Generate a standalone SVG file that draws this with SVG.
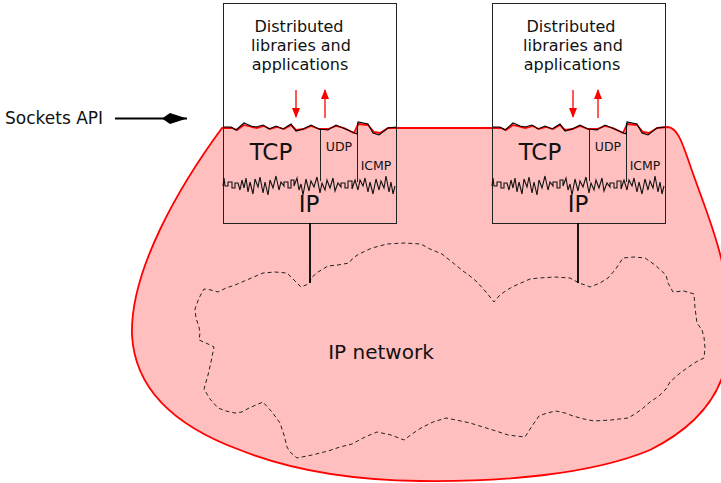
<svg xmlns="http://www.w3.org/2000/svg" width="721" height="483" viewBox="0 0 721 483">
<defs>
<style>
.box{fill:#fff;stroke:none}
.outline{fill:none;stroke:#222;stroke-width:1}
.jag{fill:none;stroke:#000;stroke-width:1.1;stroke-linejoin:miter}
.zz{fill:none;stroke:#111;stroke-width:1.1}
.t{font-family:"DejaVu Sans",sans-serif;fill:#111;text-anchor:middle}
.lib{font-size:16px}
.big{font-size:23px}
.small{font-size:12.5px}
.redarrow{stroke:#f00;stroke-width:1.3;fill:none;marker-end:url(#rh)}
</style>
<marker id="rh" viewBox="0 0 10 8" refX="9" refY="4" markerWidth="10" markerHeight="8" orient="auto" markerUnits="userSpaceOnUse"><path d="M0,0 L10,4 L0,8 Z" fill="#f00"/></marker>
<marker id="kite" viewBox="0 -6 26 12" refX="25" refY="0" markerWidth="26" markerHeight="12" orient="auto" markerUnits="userSpaceOnUse"><path d="M0,0 L8,-5.5 L25,0 L8,5.5 Z" fill="#000"/></marker>
</defs>
<rect width="721" height="483" fill="#fff"/>

<g id="box-backgrounds">
<rect class="box" x="223" y="3" width="173" height="220"/>
<rect class="box" x="492" y="3" width="173" height="220"/>
</g>

<g id="socket-region">
<path d="M222,128 L224,128 L232,128 L237,130 L244,125 L252,127 L257,128 L264,126 L270,129 L277,127 L284,129 L291,125 L296,130 L304,129 L311,126 L319,129 L328,129 L336,126 L344,128 L354,133 L358,124 L368,125 L374,132 L380,133 L388,128 L396,128 L493,128 L501,128 L506,130 L513,125 L521,127 L526,128 L533,126 L539,129 L546,127 L553,129 L560,125 L565,130 L573,129 L580,126 L588,129 L597,129 L605,126 L613,128 L623,133 L627,124 L637,125 L643,132 L649,133 L657,128 L668,127 C678,128 683,145 690,165 C702,200 715,230 722,262 C732,305 732,350 722,378 C712,405 690,430 650,450 C590,475 500,482 420,481 C340,480 280,466 240,450 C180,428 135,392 132,335 C130,270 180,185 222,128 Z" fill="#ffbfbf" stroke="#f00" stroke-width="1.8" stroke-linejoin="round"/>
</g>

<g id="ip-network">
<path d="M310,283 L311,278 L318,272 L328,266 L338,265 L349,263 L353,258 L359,254 L372,248 L387,244 L404,243 L421,244 L430,249 L442,254 L452,262 L463,271 L470,276 L477,282 L486,292 L494,302 L499,296 L504,292 L512,287 L521,283 L530,279 L539,278 L555,277 L570,278 L579,283 L585,285 L590,287 L600,283 L608,278 L615,270 L623,258 L634,257 L645,258 L655,265 L666,275 L668,283 L673,292 L684,291 L694,294 L695,308 L697,323 L702,330 L704,337 L705,348 L704,358 L696,362 L687,368 L679,374 L670,382 L666,389 L659,396 L650,402 L642,409 L635,414 L628,418 L611,420 L594,421 L584,419 L573,416 L565,413 L556,411 L547,413 L539,416 L532,426 L525,437 L516,436 L508,435 L496,431 L483,427 L470,423 L456,420 L446,418 L433,422 L421,428 L412,434 L404,440 L391,435 L377,432 L365,437 L352,444 L340,447 L328,451 L312,455 L297,458 L290,452 L287,447 L284,435 L280,423 L272,412 L263,402 L256,405 L249,408 L242,412 L235,413 L226,411 L218,408 L210,399 L204,389 L206,382 L208,375 L211,362 L214,347 L206,343 L199,340 L200,333 L199,327 L196,318 L195,309 L199,298 L204,289 L211,290 L218,292 L226,288 L235,285 L249,279 L263,273 L275,272 L287,273 L294,280 L301,287 L306,285 Z" fill="none" stroke="#222" stroke-width="1" stroke-dasharray="4 3"/>
<text class="t" x="381" y="359" font-size="20">IP network</text>
</g>

<g id="host1">
<rect class="outline" x="223.5" y="3.5" width="173" height="220"/>
<path class="outline" d="M320.5,129 V181 M357.5,123 V182"/>
<path class="jag" d="M224,127 L231,127 L236,130 L244,123 L251,126 L256,127 L263,125 L269,129 L276,126 L283,129 L291,124 L296,131 L303,129 L311,125 L319,129 L328,130 L336,125 L343,128 L357,134 L358,122 L368,124 L373,133 L379,135 L388,128 L396,127"/>
<path class="zz" d="M223,186 L224,178 L225,186 L228,186 L228,182 L232,182 L232,188 L235,188 L235,183 L238,183 L240,190 L242,180 L244,188 L246,178 L248,192 L250,182 L253,194 L255,179 L258,187 L260,177 L263,193 L265,182 L268,195 L270,180 L273,188 L276,176 L279,190 L281,182 L284,186 L284,182 L288,182 L288,188 L291,188 L291,180 L294,180 L294,186 L297,178 L299,190 L301,184 L303,195 L306,179 L309,191 L311,181 L314,187 L317,177 L320,193 L322,183 L325,190 L327,180 L330,188 L333,178 L335,191 L338,183 L341,187 L341,183 L345,183 L345,188 L348,188 L348,181 L352,181 L352,189 L355,180 L358,190 L360,180 L363,186 L365,178 L368,192 L370,182 L373,194 L376,179 L379,190 L381,181 L384,188 L386,176 L389,192 L391,182 L393,194 L395,186"/>
<line class="redarrow" x1="296" y1="90" x2="296" y2="117"/>
<line class="redarrow" x1="325" y1="118" x2="325" y2="90"/>
<text class="t lib" x="299" y="32">Distributed</text>
<text class="t lib" x="301" y="51">libraries and</text>
<text class="t lib" x="300" y="70">applications</text>
<text class="t big" x="271" y="160">TCP</text>
<text class="t small" x="339" y="151">UDP</text>
<text class="t small" x="376" y="170">ICMP</text>
<text class="t big" x="309" y="212">IP</text>
</g>

<g id="host2">
<rect class="outline" x="492.5" y="3.5" width="173" height="220"/>
<path class="outline" d="M589.5,129 V181 M626.5,123 V182"/>
<path class="jag" d="M493,127 L500,127 L505,130 L513,123 L520,126 L525,127 L532,125 L538,129 L545,126 L552,129 L560,124 L565,131 L572,129 L580,125 L588,129 L597,130 L605,125 L612,128 L626,134 L627,122 L637,124 L642,133 L648,135 L657,128 L665,127"/>
<path class="zz" transform="translate(269,0)" d="M223,186 L224,178 L225,186 L228,186 L228,182 L232,182 L232,188 L235,188 L235,183 L238,183 L240,190 L242,180 L244,188 L246,178 L248,192 L250,182 L253,194 L255,179 L258,187 L260,177 L263,193 L265,182 L268,195 L270,180 L273,188 L276,176 L279,190 L281,182 L284,186 L284,182 L288,182 L288,188 L291,188 L291,180 L294,180 L294,186 L297,178 L299,190 L301,184 L303,195 L306,179 L309,191 L311,181 L314,187 L317,177 L320,193 L322,183 L325,190 L327,180 L330,188 L333,178 L335,191 L338,183 L341,187 L341,183 L345,183 L345,188 L348,188 L348,181 L352,181 L352,189 L355,180 L358,190 L360,180 L363,186 L365,178 L368,192 L370,182 L373,194 L376,179 L379,190 L381,181 L384,188 L386,176 L389,192 L391,182 L393,194 L395,186"/>
<line class="redarrow" x1="573" y1="90" x2="573" y2="117"/>
<line class="redarrow" x1="598" y1="118" x2="598" y2="90"/>
<text class="t lib" x="571" y="32">Distributed</text>
<text class="t lib" x="573" y="51">libraries and</text>
<text class="t lib" x="572" y="70">applications</text>
<text class="t big" x="540" y="160">TCP</text>
<text class="t small" x="608" y="151">UDP</text>
<text class="t small" x="645" y="170">ICMP</text>
<text class="t big" x="578" y="212">IP</text>
</g>

<g id="sockets-api">
<text x="5" y="124" font-family="DejaVu Sans, sans-serif" font-size="17" fill="#111">Sockets API</text>
</g>

<g id="connectors">
<line x1="115" y1="118.5" x2="187" y2="118.5" stroke="#000" stroke-width="1.8" marker-end="url(#kite)"/>
<line x1="310" y1="223" x2="310" y2="283" stroke="#000" stroke-width="1.8"/>
<line x1="578" y1="223" x2="578" y2="283" stroke="#000" stroke-width="1.8"/>
</g>
</svg>
